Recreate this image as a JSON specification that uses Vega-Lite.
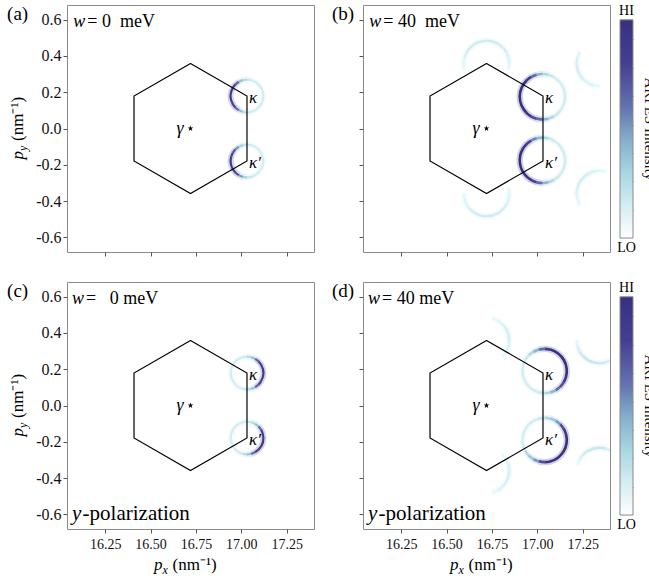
{
  "$schema": "https://vega.github.io/schema/vega-lite/v6.json",
  "background": "white",
  "padding": {"left": 6, "top": 3, "right": 0, "bottom": 0},
  "config": {
    "font": "Liberation Serif",
    "view": {"stroke": "#8a8a8a", "strokeWidth": 1},
    "axis": {"labelFont": "Liberation Serif", "labelFontSize": 16, "labelColor": "#111", "tickColor": "#555", "tickSize": 4, "domain": false, "grid": false, "titleFont": "Liberation Serif", "titleColor": "#111", "titleFontWeight": "normal"},
    "text": {"font": "Liberation Serif", "color": "#111"}
  },
  "datasets": {
    "hex": [
      {"o": 0, "x": 16.72, "y": 0.358},
      {"o": 1, "x": 17.031, "y": 0.179},
      {"o": 2, "x": 17.031, "y": -0.179},
      {"o": 3, "x": 16.72, "y": -0.358},
      {"o": 4, "x": 16.409, "y": -0.179},
      {"o": 5, "x": 16.409, "y": 0.179},
      {"o": 6, "x": 16.72, "y": 0.358}
    ],
    "gamma": [{"x": 16.72, "y": 0}],
    "valleys": [{"s": "κ", "x": 17.031, "y": 0.179}, {"s": "κ′", "x": 17.031, "y": -0.179}],
    "circles": [
      {"c": "a1", "p": "a", "x": 17.031, "y": 0.179, "r": 0.09},
      {"c": "a2", "p": "a", "x": 17.031, "y": -0.179, "r": 0.09},
      {"c": "b1", "p": "b", "x": 17.028, "y": 0.175, "r": 0.125},
      {"c": "b2", "p": "b", "x": 17.028, "y": -0.175, "r": 0.125},
      {"c": "b3", "p": "b", "x": 16.72, "y": 0.358, "r": 0.125},
      {"c": "b4", "p": "b", "x": 16.72, "y": -0.358, "r": 0.125},
      {"c": "b5", "p": "b", "x": 17.342, "y": 0.358, "r": 0.125},
      {"c": "b6", "p": "b", "x": 17.342, "y": -0.358, "r": 0.125},
      {"c": "c1", "p": "c", "x": 17.031, "y": 0.179, "r": 0.09},
      {"c": "c2", "p": "c", "x": 17.031, "y": -0.179, "r": 0.09},
      {"c": "d1", "p": "d", "x": 17.04, "y": 0.19, "r": 0.122},
      {"c": "d2", "p": "d", "x": 17.04, "y": -0.19, "r": 0.122},
      {"c": "d3", "p": "d", "x": 16.72, "y": 0.358, "r": 0.125},
      {"c": "d4", "p": "d", "x": 16.72, "y": -0.358, "r": 0.125},
      {"c": "d5", "p": "d", "x": 17.342, "y": 0.358, "r": 0.125},
      {"c": "d6", "p": "d", "x": 17.342, "y": -0.358, "r": 0.125}
    ],
    "seg": [
      {"c": "a1", "t": 0, "u": 15, "v": 0.18}, {"c": "a1", "t": 15, "u": 165, "v": 0.15}, {"c": "a1", "t": 165, "u": 180, "v": 0.18},
      {"c": "a1", "t": 180, "u": 195, "v": 0.27}, {"c": "a1", "t": 195, "u": 210, "v": 0.38}, {"c": "a1", "t": 210, "u": 225, "v": 0.65},
      {"c": "a1", "t": 225, "u": 240, "v": 0.8}, {"c": "a1", "t": 240, "u": 300, "v": 0.85}, {"c": "a1", "t": 300, "u": 315, "v": 0.8},
      {"c": "a1", "t": 315, "u": 330, "v": 0.65}, {"c": "a1", "t": 330, "u": 345, "v": 0.38}, {"c": "a1", "t": 345, "u": 360, "v": 0.27},

      {"c": "a2", "t": 0, "u": 15, "v": 0.17}, {"c": "a2", "t": 15, "u": 150, "v": 0.15}, {"c": "a2", "t": 150, "u": 165, "v": 0.17},
      {"c": "a2", "t": 165, "u": 180, "v": 0.2}, {"c": "a2", "t": 180, "u": 195, "v": 0.32}, {"c": "a2", "t": 195, "u": 210, "v": 0.5},
      {"c": "a2", "t": 210, "u": 225, "v": 0.75}, {"c": "a2", "t": 225, "u": 240, "v": 0.83}, {"c": "a2", "t": 240, "u": 285, "v": 0.85},
      {"c": "a2", "t": 285, "u": 300, "v": 0.83}, {"c": "a2", "t": 300, "u": 315, "v": 0.72}, {"c": "a2", "t": 315, "u": 330, "v": 0.5},
      {"c": "a2", "t": 330, "u": 345, "v": 0.3}, {"c": "a2", "t": 345, "u": 360, "v": 0.2},

      {"c": "c1", "t": 0, "u": 15, "v": 0.27}, {"c": "c1", "t": 15, "u": 30, "v": 0.38}, {"c": "c1", "t": 30, "u": 45, "v": 0.65},
      {"c": "c1", "t": 45, "u": 60, "v": 0.8}, {"c": "c1", "t": 60, "u": 120, "v": 0.85}, {"c": "c1", "t": 120, "u": 135, "v": 0.8},
      {"c": "c1", "t": 135, "u": 150, "v": 0.65}, {"c": "c1", "t": 150, "u": 165, "v": 0.38}, {"c": "c1", "t": 165, "u": 180, "v": 0.27},
      {"c": "c1", "t": 180, "u": 195, "v": 0.18}, {"c": "c1", "t": 195, "u": 345, "v": 0.15}, {"c": "c1", "t": 345, "u": 360, "v": 0.18},

      {"c": "c2", "t": 0, "u": 15, "v": 0.18}, {"c": "c2", "t": 15, "u": 30, "v": 0.27}, {"c": "c2", "t": 30, "u": 45, "v": 0.38},
      {"c": "c2", "t": 45, "u": 60, "v": 0.65}, {"c": "c2", "t": 60, "u": 75, "v": 0.8}, {"c": "c2", "t": 75, "u": 135, "v": 0.85},
      {"c": "c2", "t": 135, "u": 150, "v": 0.8}, {"c": "c2", "t": 150, "u": 165, "v": 0.65}, {"c": "c2", "t": 165, "u": 180, "v": 0.38},
      {"c": "c2", "t": 180, "u": 195, "v": 0.27}, {"c": "c2", "t": 195, "u": 210, "v": 0.18}, {"c": "c2", "t": 210, "u": 360, "v": 0.15},

      {"c": "b1", "t": 0, "u": 15, "v": 0.28}, {"c": "b1", "t": 15, "u": 30, "v": 0.18}, {"c": "b1", "t": 30, "u": 135, "v": 0.15},
      {"c": "b1", "t": 135, "u": 150, "v": 0.18}, {"c": "b1", "t": 150, "u": 165, "v": 0.28}, {"c": "b1", "t": 165, "u": 180, "v": 0.42},
      {"c": "b1", "t": 180, "u": 195, "v": 0.62}, {"c": "b1", "t": 195, "u": 210, "v": 0.75}, {"c": "b1", "t": 210, "u": 225, "v": 0.95},
      {"c": "b1", "t": 225, "u": 315, "v": 1}, {"c": "b1", "t": 315, "u": 330, "v": 0.87}, {"c": "b1", "t": 330, "u": 345, "v": 0.62},
      {"c": "b1", "t": 345, "u": 360, "v": 0.42},

      {"c": "b2", "t": 0, "u": 15, "v": 0.28}, {"c": "b2", "t": 15, "u": 30, "v": 0.18}, {"c": "b2", "t": 30, "u": 135, "v": 0.15},
      {"c": "b2", "t": 135, "u": 150, "v": 0.18}, {"c": "b2", "t": 150, "u": 165, "v": 0.28}, {"c": "b2", "t": 165, "u": 180, "v": 0.42},
      {"c": "b2", "t": 180, "u": 195, "v": 0.62}, {"c": "b2", "t": 195, "u": 210, "v": 0.8}, {"c": "b2", "t": 210, "u": 225, "v": 0.95},
      {"c": "b2", "t": 225, "u": 300, "v": 1}, {"c": "b2", "t": 300, "u": 315, "v": 0.95}, {"c": "b2", "t": 315, "u": 330, "v": 0.8},
      {"c": "b2", "t": 330, "u": 345, "v": 0.55}, {"c": "b2", "t": 345, "u": 360, "v": 0.4},

      {"c": "b3", "t": 255, "u": 270, "v": 0.08}, {"c": "b3", "t": 270, "u": 285, "v": 0.1}, {"c": "b3", "t": 285, "u": 300, "v": 0.13},
      {"c": "b3", "t": 300, "u": 315, "v": 0.15}, {"c": "b3", "t": 315, "u": 360, "v": 0.16}, {"c": "b3", "t": 0, "u": 30, "v": 0.16},
      {"c": "b3", "t": 30, "u": 45, "v": 0.15}, {"c": "b3", "t": 45, "u": 60, "v": 0.14}, {"c": "b3", "t": 60, "u": 75, "v": 0.12},
      {"c": "b3", "t": 75, "u": 90, "v": 0.1}, {"c": "b3", "t": 90, "u": 105, "v": 0.08},

      {"c": "b4", "t": 75, "u": 90, "v": 0.08}, {"c": "b4", "t": 90, "u": 105, "v": 0.1}, {"c": "b4", "t": 105, "u": 120, "v": 0.12},
      {"c": "b4", "t": 120, "u": 135, "v": 0.14}, {"c": "b4", "t": 135, "u": 150, "v": 0.15}, {"c": "b4", "t": 150, "u": 195, "v": 0.16},
      {"c": "b4", "t": 195, "u": 210, "v": 0.15}, {"c": "b4", "t": 210, "u": 225, "v": 0.14}, {"c": "b4", "t": 225, "u": 240, "v": 0.12},
      {"c": "b4", "t": 240, "u": 255, "v": 0.1}, {"c": "b4", "t": 255, "u": 270, "v": 0.08},

      {"c": "b5", "t": 180, "u": 195, "v": 0.08}, {"c": "b5", "t": 195, "u": 210, "v": 0.1}, {"c": "b5", "t": 210, "u": 225, "v": 0.12},
      {"c": "b5", "t": 225, "u": 270, "v": 0.14}, {"c": "b5", "t": 270, "u": 285, "v": 0.12}, {"c": "b5", "t": 285, "u": 300, "v": 0.1},

      {"c": "b6", "t": 240, "u": 255, "v": 0.08}, {"c": "b6", "t": 255, "u": 270, "v": 0.1}, {"c": "b6", "t": 270, "u": 285, "v": 0.12},
      {"c": "b6", "t": 285, "u": 330, "v": 0.14}, {"c": "b6", "t": 330, "u": 345, "v": 0.12}, {"c": "b6", "t": 345, "u": 360, "v": 0.1},
      {"c": "b6", "t": 0, "u": 15, "v": 0.08},

      {"c": "d1", "t": 0, "u": 15, "v": 0.87}, {"c": "d1", "t": 15, "u": 105, "v": 1}, {"c": "d1", "t": 105, "u": 120, "v": 0.95},
      {"c": "d1", "t": 120, "u": 135, "v": 0.75}, {"c": "d1", "t": 135, "u": 150, "v": 0.62}, {"c": "d1", "t": 150, "u": 165, "v": 0.42},
      {"c": "d1", "t": 165, "u": 180, "v": 0.28}, {"c": "d1", "t": 180, "u": 195, "v": 0.18}, {"c": "d1", "t": 195, "u": 300, "v": 0.15},
      {"c": "d1", "t": 300, "u": 315, "v": 0.18}, {"c": "d1", "t": 315, "u": 330, "v": 0.28}, {"c": "d1", "t": 330, "u": 345, "v": 0.42},
      {"c": "d1", "t": 345, "u": 360, "v": 0.62},

      {"c": "d2", "t": 0, "u": 15, "v": 0.28}, {"c": "d2", "t": 15, "u": 30, "v": 0.35}, {"c": "d2", "t": 30, "u": 45, "v": 0.5},
      {"c": "d2", "t": 45, "u": 60, "v": 0.75}, {"c": "d2", "t": 60, "u": 75, "v": 0.95}, {"c": "d2", "t": 75, "u": 165, "v": 1},
      {"c": "d2", "t": 165, "u": 180, "v": 0.95}, {"c": "d2", "t": 180, "u": 195, "v": 0.75}, {"c": "d2", "t": 195, "u": 210, "v": 0.5},
      {"c": "d2", "t": 210, "u": 225, "v": 0.35}, {"c": "d2", "t": 225, "u": 240, "v": 0.28}, {"c": "d2", "t": 240, "u": 255, "v": 0.18},
      {"c": "d2", "t": 255, "u": 345, "v": 0.15}, {"c": "d2", "t": 345, "u": 360, "v": 0.18},

      {"c": "d3", "t": 15, "u": 30, "v": 0.07}, {"c": "d3", "t": 30, "u": 45, "v": 0.1}, {"c": "d3", "t": 45, "u": 60, "v": 0.12},
      {"c": "d3", "t": 60, "u": 90, "v": 0.14}, {"c": "d3", "t": 90, "u": 105, "v": 0.12}, {"c": "d3", "t": 105, "u": 120, "v": 0.1},
      {"c": "d3", "t": 120, "u": 135, "v": 0.07},

      {"c": "d4", "t": 45, "u": 60, "v": 0.07}, {"c": "d4", "t": 60, "u": 75, "v": 0.1}, {"c": "d4", "t": 75, "u": 90, "v": 0.12},
      {"c": "d4", "t": 90, "u": 120, "v": 0.14}, {"c": "d4", "t": 120, "u": 135, "v": 0.12}, {"c": "d4", "t": 135, "u": 150, "v": 0.1},
      {"c": "d4", "t": 150, "u": 165, "v": 0.07},

      {"c": "d5", "t": 135, "u": 150, "v": 0.08}, {"c": "d5", "t": 150, "u": 165, "v": 0.13}, {"c": "d5", "t": 165, "u": 180, "v": 0.16},
      {"c": "d5", "t": 180, "u": 225, "v": 0.19}, {"c": "d5", "t": 225, "u": 240, "v": 0.16}, {"c": "d5", "t": 240, "u": 255, "v": 0.13},
      {"c": "d5", "t": 255, "u": 270, "v": 0.08},

      {"c": "d6", "t": 285, "u": 300, "v": 0.08}, {"c": "d6", "t": 300, "u": 315, "v": 0.13}, {"c": "d6", "t": 315, "u": 330, "v": 0.16},
      {"c": "d6", "t": 330, "u": 360, "v": 0.19}, {"c": "d6", "t": 0, "u": 15, "v": 0.18}, {"c": "d6", "t": 15, "u": 30, "v": 0.13},
      {"c": "d6", "t": 30, "u": 45, "v": 0.08}
    ]
  },
  "spacing": 23,
  "vconcat": [
    {
      "bounds": "flush",
      "spacing": 49,
      "hconcat": [
        {
          "width": 247, "height": 247,
          "encoding": {
            "x": {"field": "x", "type": "quantitative", "scale": {"domain": [16.04, 17.4], "nice": false, "zero": false}, "axis": {"values": [16.25, 16.5, 16.75, 17, 17.25], "labels": false, "title": null}},
            "y": {"field": "y", "type": "quantitative", "scale": {"domain": [-0.68, 0.68], "nice": false, "zero": false}, "axis": {"values": [-0.6, -0.4, -0.2, 0, 0.2, 0.4, 0.6], "labelExpr": "datum.value < 0 ? '-' + format(-datum.value, '.1f') : format(datum.value, '.1f')", "labelPadding": 2, "title": null}}
          },
          "layer": [
            {"data": {"name": "seg"}, "transform": [{"lookup": "c", "from": {"data": {"name": "circles"}, "key": "c", "fields": ["p", "x", "y", "r"]}}, {"filter": "datum.p === 'a'"}],
             "mark": {"type": "arc", "radiusOffset": 3, "radius2Offset": -3, "opacity": 0.22, "theta2Offset": 0.01, "clip": true},
             "encoding": {"theta": {"field": "t", "type": "quantitative", "scale": {"domain": [0, 360], "range": [0, 6.2832]}, "stack": null}, "theta2": {"field": "u"},
               "radius": {"field": "r", "type": "quantitative", "scale": {"type": "linear", "domain": [0, 1.36], "range": [0, 247], "zero": true}}, "radius2": {"field": "r"},
               "color": {"field": "v", "type": "quantitative", "scale": {"domain": [0, 0.15, 0.3, 0.45, 0.6, 0.8, 1], "range": ["#ffffff", "#d4edf2", "#a8d6e1", "#86aecd", "#6372b0", "#463f90", "#38307f"]}, "legend": null}}},
            {"data": {"name": "seg"}, "transform": [{"lookup": "c", "from": {"data": {"name": "circles"}, "key": "c", "fields": ["p", "x", "y", "r"]}}, {"filter": "datum.p === 'a'"}],
             "mark": {"type": "arc", "radiusOffset": 1.1, "radius2Offset": -1.1, "theta2Offset": 0.01, "clip": true},
             "encoding": {"theta": {"field": "t", "type": "quantitative", "scale": {"domain": [0, 360], "range": [0, 6.2832]}, "stack": null}, "theta2": {"field": "u"},
               "radius": {"field": "r", "type": "quantitative", "scale": {"type": "linear", "domain": [0, 1.36], "range": [0, 247], "zero": true}}, "radius2": {"field": "r"},
               "color": {"field": "v", "type": "quantitative", "scale": {"domain": [0, 0.15, 0.3, 0.45, 0.6, 0.8, 1], "range": ["#ffffff", "#d4edf2", "#a8d6e1", "#86aecd", "#6372b0", "#463f90", "#38307f"]}, "legend": null}}},
            {"data": {"name": "hex"}, "mark": {"type": "line", "color": "black", "strokeWidth": 1.2}, "encoding": {"order": {"field": "o"}}},
            {"data": {"name": "gamma"}, "mark": {"type": "point", "shape": "M0,-1L0.225,-0.309L0.951,-0.309L0.363,0.118L0.588,0.809L0,0.382L-0.588,0.809L-0.363,0.118L-0.951,-0.309L-0.225,-0.309Z", "filled": true, "color": "black", "opacity": 1, "size": 36}},
            {"data": {"name": "gamma"}, "mark": {"type": "text", "text": "γ", "fontStyle": "italic", "fontSize": 18, "align": "right", "baseline": "middle", "dx": -7, "color": "black"}},
            {"data": {"name": "valleys"}, "mark": {"type": "text", "fontStyle": "italic", "fontSize": 17, "align": "left", "baseline": "middle", "dx": 2, "dy": 2, "color": "black"}, "encoding": {"text": {"field": "s"}}},
            {"data": {"values": [{"x": 16.075, "y": 0.56}]}, "mark": {"type": "text", "text": "w", "fontStyle": "italic", "fontSize": 18, "align": "left", "baseline": "alphabetic", "color": "black"}},
            {"data": {"values": [{"x": 16.075, "y": 0.56}]}, "mark": {"type": "text", "text": "= 0\u00a0\u00a0meV", "fontSize": 18, "align": "left", "baseline": "alphabetic", "dx": 14, "color": "black"}},
            {"data": {"values": [{"x": 15.71, "y": 0.597}]}, "mark": {"type": "text", "text": "(a)", "fontSize": 19, "align": "left", "baseline": "alphabetic", "color": "black"}},
            {"data": {"values": [{"x": 15.798, "y": 0}]}, "mark": {"type": "text", "text": "p", "fontStyle": "italic", "fontSize": 17, "angle": 270, "align": "left", "baseline": "alphabetic", "dx": -31, "color": "black"}},
            {"data": {"values": [{"x": 15.798, "y": 0}]}, "mark": {"type": "text", "text": "y", "fontStyle": "italic", "fontSize": 12, "angle": 270, "align": "left", "baseline": "alphabetic", "dx": -22.5, "dy": 4, "color": "black"}},
            {"data": {"values": [{"x": 15.798, "y": 0}]}, "mark": {"type": "text", "text": "(nm⁻¹)", "fontSize": 17, "angle": 270, "align": "left", "baseline": "alphabetic", "dx": -12.5, "color": "black"}}
          ]
        },
        {
          "bounds": "flush",
          "spacing": 10,
          "hconcat": [
            {
              "width": 247, "height": 247,
              "encoding": {
                "x": {"field": "x", "type": "quantitative", "scale": {"domain": [16.04, 17.4], "nice": false, "zero": false}, "axis": {"values": [16.25, 16.5, 16.75, 17, 17.25], "labels": false, "title": null}},
                "y": {"field": "y", "type": "quantitative", "scale": {"domain": [-0.68, 0.68], "nice": false, "zero": false}, "axis": {"values": [-0.6, -0.4, -0.2, 0, 0.2, 0.4, 0.6], "labels": false, "title": null}}
              },
              "layer": [
                {"data": {"name": "seg"}, "transform": [{"lookup": "c", "from": {"data": {"name": "circles"}, "key": "c", "fields": ["p", "x", "y", "r"]}}, {"filter": "datum.p === 'b'"}],
                 "mark": {"type": "arc", "radiusOffset": 3.2, "radius2Offset": -3.2, "opacity": 0.22, "theta2Offset": 0.01, "clip": true},
                 "encoding": {"theta": {"field": "t", "type": "quantitative", "scale": {"domain": [0, 360], "range": [0, 6.2832]}, "stack": null}, "theta2": {"field": "u"},
                   "radius": {"field": "r", "type": "quantitative", "scale": {"type": "linear", "domain": [0, 1.36], "range": [0, 247], "zero": true}}, "radius2": {"field": "r"},
                   "color": {"field": "v", "type": "quantitative", "scale": {"domain": [0, 0.15, 0.3, 0.45, 0.6, 0.8, 1], "range": ["#ffffff", "#d4edf2", "#a8d6e1", "#86aecd", "#6372b0", "#463f90", "#38307f"]}, "legend": null}}},
                {"data": {"name": "seg"}, "transform": [{"lookup": "c", "from": {"data": {"name": "circles"}, "key": "c", "fields": ["p", "x", "y", "r"]}}, {"filter": "datum.p === 'b'"}],
                 "mark": {"type": "arc", "radiusOffset": 1.3, "radius2Offset": -1.3, "theta2Offset": 0.01, "clip": true},
                 "encoding": {"theta": {"field": "t", "type": "quantitative", "scale": {"domain": [0, 360], "range": [0, 6.2832]}, "stack": null}, "theta2": {"field": "u"},
                   "radius": {"field": "r", "type": "quantitative", "scale": {"type": "linear", "domain": [0, 1.36], "range": [0, 247], "zero": true}}, "radius2": {"field": "r"},
                   "color": {"field": "v", "type": "quantitative", "scale": {"domain": [0, 0.15, 0.3, 0.45, 0.6, 0.8, 1], "range": ["#ffffff", "#d4edf2", "#a8d6e1", "#86aecd", "#6372b0", "#463f90", "#38307f"]}, "legend": null}}},
                {"data": {"name": "hex"}, "mark": {"type": "line", "color": "black", "strokeWidth": 1.2}, "encoding": {"order": {"field": "o"}}},
                {"data": {"name": "gamma"}, "mark": {"type": "point", "shape": "M0,-1L0.225,-0.309L0.951,-0.309L0.363,0.118L0.588,0.809L0,0.382L-0.588,0.809L-0.363,0.118L-0.951,-0.309L-0.225,-0.309Z", "filled": true, "color": "black", "opacity": 1, "size": 36}},
                {"data": {"name": "gamma"}, "mark": {"type": "text", "text": "γ", "fontStyle": "italic", "fontSize": 18, "align": "right", "baseline": "middle", "dx": -7, "color": "black"}},
                {"data": {"name": "valleys"}, "mark": {"type": "text", "fontStyle": "italic", "fontSize": 17, "align": "left", "baseline": "middle", "dx": 2, "dy": 2, "color": "black"}, "encoding": {"text": {"field": "s"}}},
                {"data": {"values": [{"x": 16.075, "y": 0.56}]}, "mark": {"type": "text", "text": "w", "fontStyle": "italic", "fontSize": 18, "align": "left", "baseline": "alphabetic", "color": "black"}},
                {"data": {"values": [{"x": 16.075, "y": 0.56}]}, "mark": {"type": "text", "text": "= 40\u00a0\u00a0meV", "fontSize": 18, "align": "left", "baseline": "alphabetic", "dx": 14, "color": "black"}},
                {"data": {"values": [{"x": 15.869, "y": 0.597}]}, "mark": {"type": "text", "text": "(b)", "fontSize": 19, "align": "left", "baseline": "alphabetic", "color": "black"}}
              ]
            },
            {
              "width": 13, "height": 247,
              "view": {"stroke": null},
              "layer": [
                {"data": {"values": [{"lo": 0, "hi": 1}]},
                 "mark": {"type": "rect", "stroke": "#8a8a8a", "strokeWidth": 1, "fill": {"gradient": "linear", "x1": 0, "y1": 1, "x2": 0, "y2": 0, "stops": [{"offset": 0, "color": "#ffffff"}, {"offset": 0.15, "color": "#d4edf2"}, {"offset": 0.3, "color": "#a8d6e1"}, {"offset": 0.45, "color": "#86aecd"}, {"offset": 0.6, "color": "#6372b0"}, {"offset": 0.8, "color": "#463f90"}, {"offset": 1, "color": "#38307f"}]}},
                 "encoding": {"y": {"field": "lo", "type": "quantitative", "scale": {"domain": [-0.064, 1.068], "nice": false, "zero": false}, "axis": {"orient": "right", "values": [0.13, 0.26, 0.39, 0.52, 0.65, 0.78, 0.91], "labels": false, "tickSize": -4, "tickColor": "#666", "title": "ARPES Intensity", "titleAngle": 90, "titleFontSize": 15, "titlePadding": 8}}, "y2": {"field": "hi"}}},
                {"data": {"values": [{"s": "HI", "y": 1.041}, {"s": "LO", "y": -0.046}]},
                 "mark": {"type": "text", "fontSize": 14, "align": "center", "baseline": "middle", "color": "black"},
                 "encoding": {"y": {"field": "y", "type": "quantitative"}, "text": {"field": "s"}}}
              ]
            }
          ]
        }
      ]
    },
    {
      "bounds": "flush",
      "spacing": 49,
      "hconcat": [
        {
          "width": 247, "height": 247,
          "encoding": {
            "x": {"field": "x", "type": "quantitative", "scale": {"domain": [16.04, 17.4], "nice": false, "zero": false}, "axis": {"values": [16.25, 16.5, 16.75, 17, 17.25], "format": ".2f", "labelFontSize": 14, "labelPadding": 4, "title": null}},
            "y": {"field": "y", "type": "quantitative", "scale": {"domain": [-0.68, 0.68], "nice": false, "zero": false}, "axis": {"values": [-0.6, -0.4, -0.2, 0, 0.2, 0.4, 0.6], "labelExpr": "datum.value < 0 ? '-' + format(-datum.value, '.1f') : format(datum.value, '.1f')", "labelPadding": 2, "title": null}}
          },
          "layer": [
            {"data": {"name": "seg"}, "transform": [{"lookup": "c", "from": {"data": {"name": "circles"}, "key": "c", "fields": ["p", "x", "y", "r"]}}, {"filter": "datum.p === 'c'"}],
             "mark": {"type": "arc", "radiusOffset": 3, "radius2Offset": -3, "opacity": 0.22, "theta2Offset": 0.01, "clip": true},
             "encoding": {"theta": {"field": "t", "type": "quantitative", "scale": {"domain": [0, 360], "range": [0, 6.2832]}, "stack": null}, "theta2": {"field": "u"},
               "radius": {"field": "r", "type": "quantitative", "scale": {"type": "linear", "domain": [0, 1.36], "range": [0, 247], "zero": true}}, "radius2": {"field": "r"},
               "color": {"field": "v", "type": "quantitative", "scale": {"domain": [0, 0.15, 0.3, 0.45, 0.6, 0.8, 1], "range": ["#ffffff", "#d4edf2", "#a8d6e1", "#86aecd", "#6372b0", "#463f90", "#38307f"]}, "legend": null}}},
            {"data": {"name": "seg"}, "transform": [{"lookup": "c", "from": {"data": {"name": "circles"}, "key": "c", "fields": ["p", "x", "y", "r"]}}, {"filter": "datum.p === 'c'"}],
             "mark": {"type": "arc", "radiusOffset": 1.1, "radius2Offset": -1.1, "theta2Offset": 0.01, "clip": true},
             "encoding": {"theta": {"field": "t", "type": "quantitative", "scale": {"domain": [0, 360], "range": [0, 6.2832]}, "stack": null}, "theta2": {"field": "u"},
               "radius": {"field": "r", "type": "quantitative", "scale": {"type": "linear", "domain": [0, 1.36], "range": [0, 247], "zero": true}}, "radius2": {"field": "r"},
               "color": {"field": "v", "type": "quantitative", "scale": {"domain": [0, 0.15, 0.3, 0.45, 0.6, 0.8, 1], "range": ["#ffffff", "#d4edf2", "#a8d6e1", "#86aecd", "#6372b0", "#463f90", "#38307f"]}, "legend": null}}},
            {"data": {"name": "hex"}, "mark": {"type": "line", "color": "black", "strokeWidth": 1.2}, "encoding": {"order": {"field": "o"}}},
            {"data": {"name": "gamma"}, "mark": {"type": "point", "shape": "M0,-1L0.225,-0.309L0.951,-0.309L0.363,0.118L0.588,0.809L0,0.382L-0.588,0.809L-0.363,0.118L-0.951,-0.309L-0.225,-0.309Z", "filled": true, "color": "black", "opacity": 1, "size": 36}},
            {"data": {"name": "gamma"}, "mark": {"type": "text", "text": "γ", "fontStyle": "italic", "fontSize": 18, "align": "right", "baseline": "middle", "dx": -7, "color": "black"}},
            {"data": {"name": "valleys"}, "mark": {"type": "text", "fontStyle": "italic", "fontSize": 17, "align": "left", "baseline": "middle", "dx": 2, "dy": 2, "color": "black"}, "encoding": {"text": {"field": "s"}}},
            {"data": {"values": [{"x": 16.068, "y": 0.56}]}, "mark": {"type": "text", "text": "w", "fontStyle": "italic", "fontSize": 18, "align": "left", "baseline": "alphabetic", "color": "black"}},
            {"data": {"values": [{"x": 16.068, "y": 0.56}]}, "mark": {"type": "text", "text": "=\u00a0\u00a0 0 meV", "fontSize": 18, "align": "left", "baseline": "alphabetic", "dx": 14, "color": "black"}},
            {"data": {"values": [{"x": 16.068, "y": -0.63}]}, "mark": {"type": "text", "text": "y", "fontStyle": "italic", "fontSize": 21, "align": "left", "baseline": "alphabetic", "color": "black"}},
            {"data": {"values": [{"x": 16.068, "y": -0.63}]}, "mark": {"type": "text", "text": "-polarization", "fontSize": 21, "align": "left", "baseline": "alphabetic", "dx": 10.5, "color": "black"}},
            {"data": {"values": [{"x": 15.71, "y": 0.597}]}, "mark": {"type": "text", "text": "(c)", "fontSize": 19, "align": "left", "baseline": "alphabetic", "color": "black"}},
            {"data": {"values": [{"x": 15.798, "y": 0}]}, "mark": {"type": "text", "text": "p", "fontStyle": "italic", "fontSize": 17, "angle": 270, "align": "left", "baseline": "alphabetic", "dx": -31, "color": "black"}},
            {"data": {"values": [{"x": 15.798, "y": 0}]}, "mark": {"type": "text", "text": "y", "fontStyle": "italic", "fontSize": 12, "angle": 270, "align": "left", "baseline": "alphabetic", "dx": -22.5, "dy": 4, "color": "black"}},
            {"data": {"values": [{"x": 15.798, "y": 0}]}, "mark": {"type": "text", "text": "(nm⁻¹)", "fontSize": 17, "angle": 270, "align": "left", "baseline": "alphabetic", "dx": -12.5, "color": "black"}},
            {"data": {"values": [{"x": 16.69, "y": -0.905}]}, "mark": {"type": "text", "text": "p", "fontStyle": "italic", "fontSize": 17, "align": "left", "baseline": "alphabetic", "dx": -31, "color": "black"}},
            {"data": {"values": [{"x": 16.69, "y": -0.905}]}, "mark": {"type": "text", "text": "x", "fontStyle": "italic", "fontSize": 12, "align": "left", "baseline": "alphabetic", "dx": -22.5, "dy": 4, "color": "black"}},
            {"data": {"values": [{"x": 16.69, "y": -0.905}]}, "mark": {"type": "text", "text": "(nm⁻¹)", "fontSize": 17, "align": "left", "baseline": "alphabetic", "dx": -12.5, "color": "black"}}
          ]
        },
        {
          "bounds": "flush",
          "spacing": 10,
          "hconcat": [
            {
              "width": 247, "height": 247,
              "encoding": {
                "x": {"field": "x", "type": "quantitative", "scale": {"domain": [16.04, 17.4], "nice": false, "zero": false}, "axis": {"values": [16.25, 16.5, 16.75, 17, 17.25], "format": ".2f", "labelFontSize": 14, "labelPadding": 4, "title": null}},
                "y": {"field": "y", "type": "quantitative", "scale": {"domain": [-0.68, 0.68], "nice": false, "zero": false}, "axis": {"values": [-0.6, -0.4, -0.2, 0, 0.2, 0.4, 0.6], "labels": false, "title": null}}
              },
              "layer": [
                {"data": {"name": "seg"}, "transform": [{"lookup": "c", "from": {"data": {"name": "circles"}, "key": "c", "fields": ["p", "x", "y", "r"]}}, {"filter": "datum.p === 'd'"}],
                 "mark": {"type": "arc", "radiusOffset": 3.2, "radius2Offset": -3.2, "opacity": 0.22, "theta2Offset": 0.01, "clip": true},
                 "encoding": {"theta": {"field": "t", "type": "quantitative", "scale": {"domain": [0, 360], "range": [0, 6.2832]}, "stack": null}, "theta2": {"field": "u"},
                   "radius": {"field": "r", "type": "quantitative", "scale": {"type": "linear", "domain": [0, 1.36], "range": [0, 247], "zero": true}}, "radius2": {"field": "r"},
                   "color": {"field": "v", "type": "quantitative", "scale": {"domain": [0, 0.15, 0.3, 0.45, 0.6, 0.8, 1], "range": ["#ffffff", "#d4edf2", "#a8d6e1", "#86aecd", "#6372b0", "#463f90", "#38307f"]}, "legend": null}}},
                {"data": {"name": "seg"}, "transform": [{"lookup": "c", "from": {"data": {"name": "circles"}, "key": "c", "fields": ["p", "x", "y", "r"]}}, {"filter": "datum.p === 'd'"}],
                 "mark": {"type": "arc", "radiusOffset": 1.3, "radius2Offset": -1.3, "theta2Offset": 0.01, "clip": true},
                 "encoding": {"theta": {"field": "t", "type": "quantitative", "scale": {"domain": [0, 360], "range": [0, 6.2832]}, "stack": null}, "theta2": {"field": "u"},
                   "radius": {"field": "r", "type": "quantitative", "scale": {"type": "linear", "domain": [0, 1.36], "range": [0, 247], "zero": true}}, "radius2": {"field": "r"},
                   "color": {"field": "v", "type": "quantitative", "scale": {"domain": [0, 0.15, 0.3, 0.45, 0.6, 0.8, 1], "range": ["#ffffff", "#d4edf2", "#a8d6e1", "#86aecd", "#6372b0", "#463f90", "#38307f"]}, "legend": null}}},
                {"data": {"name": "hex"}, "mark": {"type": "line", "color": "black", "strokeWidth": 1.2}, "encoding": {"order": {"field": "o"}}},
                {"data": {"name": "gamma"}, "mark": {"type": "point", "shape": "M0,-1L0.225,-0.309L0.951,-0.309L0.363,0.118L0.588,0.809L0,0.382L-0.588,0.809L-0.363,0.118L-0.951,-0.309L-0.225,-0.309Z", "filled": true, "color": "black", "opacity": 1, "size": 36}},
                {"data": {"name": "gamma"}, "mark": {"type": "text", "text": "γ", "fontStyle": "italic", "fontSize": 18, "align": "right", "baseline": "middle", "dx": -7, "color": "black"}},
                {"data": {"name": "valleys"}, "mark": {"type": "text", "fontStyle": "italic", "fontSize": 17, "align": "left", "baseline": "middle", "dx": 2, "dy": 2, "color": "black"}, "encoding": {"text": {"field": "s"}}},
                {"data": {"values": [{"x": 16.068, "y": 0.56}]}, "mark": {"type": "text", "text": "w", "fontStyle": "italic", "fontSize": 18, "align": "left", "baseline": "alphabetic", "color": "black"}},
                {"data": {"values": [{"x": 16.068, "y": 0.56}]}, "mark": {"type": "text", "text": "= 40 meV", "fontSize": 18, "align": "left", "baseline": "alphabetic", "dx": 14, "color": "black"}},
                {"data": {"values": [{"x": 16.068, "y": -0.63}]}, "mark": {"type": "text", "text": "y", "fontStyle": "italic", "fontSize": 21, "align": "left", "baseline": "alphabetic", "color": "black"}},
                {"data": {"values": [{"x": 16.068, "y": -0.63}]}, "mark": {"type": "text", "text": "-polarization", "fontSize": 21, "align": "left", "baseline": "alphabetic", "dx": 10.5, "color": "black"}},
                {"data": {"values": [{"x": 15.869, "y": 0.597}]}, "mark": {"type": "text", "text": "(d)", "fontSize": 19, "align": "left", "baseline": "alphabetic", "color": "black"}},
                {"data": {"values": [{"x": 16.69, "y": -0.905}]}, "mark": {"type": "text", "text": "p", "fontStyle": "italic", "fontSize": 17, "align": "left", "baseline": "alphabetic", "dx": -31, "color": "black"}},
                {"data": {"values": [{"x": 16.69, "y": -0.905}]}, "mark": {"type": "text", "text": "x", "fontStyle": "italic", "fontSize": 12, "align": "left", "baseline": "alphabetic", "dx": -22.5, "dy": 4, "color": "black"}},
                {"data": {"values": [{"x": 16.69, "y": -0.905}]}, "mark": {"type": "text", "text": "(nm⁻¹)", "fontSize": 17, "align": "left", "baseline": "alphabetic", "dx": -12.5, "color": "black"}}
              ]
            },
            {
              "width": 13, "height": 247,
              "view": {"stroke": null},
              "layer": [
                {"data": {"values": [{"lo": 0, "hi": 1}]},
                 "mark": {"type": "rect", "stroke": "#8a8a8a", "strokeWidth": 1, "fill": {"gradient": "linear", "x1": 0, "y1": 1, "x2": 0, "y2": 0, "stops": [{"offset": 0, "color": "#ffffff"}, {"offset": 0.15, "color": "#d4edf2"}, {"offset": 0.3, "color": "#a8d6e1"}, {"offset": 0.45, "color": "#86aecd"}, {"offset": 0.6, "color": "#6372b0"}, {"offset": 0.8, "color": "#463f90"}, {"offset": 1, "color": "#38307f"}]}},
                 "encoding": {"y": {"field": "lo", "type": "quantitative", "scale": {"domain": [-0.064, 1.068], "nice": false, "zero": false}, "axis": {"orient": "right", "values": [0.13, 0.26, 0.39, 0.52, 0.65, 0.78, 0.91], "labels": false, "tickSize": -4, "tickColor": "#666", "title": "ARPES Intensity", "titleAngle": 90, "titleFontSize": 15, "titlePadding": 8}}, "y2": {"field": "hi"}}},
                {"data": {"values": [{"s": "HI", "y": 1.041}, {"s": "LO", "y": -0.046}]},
                 "mark": {"type": "text", "fontSize": 14, "align": "center", "baseline": "middle", "color": "black"},
                 "encoding": {"y": {"field": "y", "type": "quantitative"}, "text": {"field": "s"}}}
              ]
            }
          ]
        }
      ]
    }
  ]
}
